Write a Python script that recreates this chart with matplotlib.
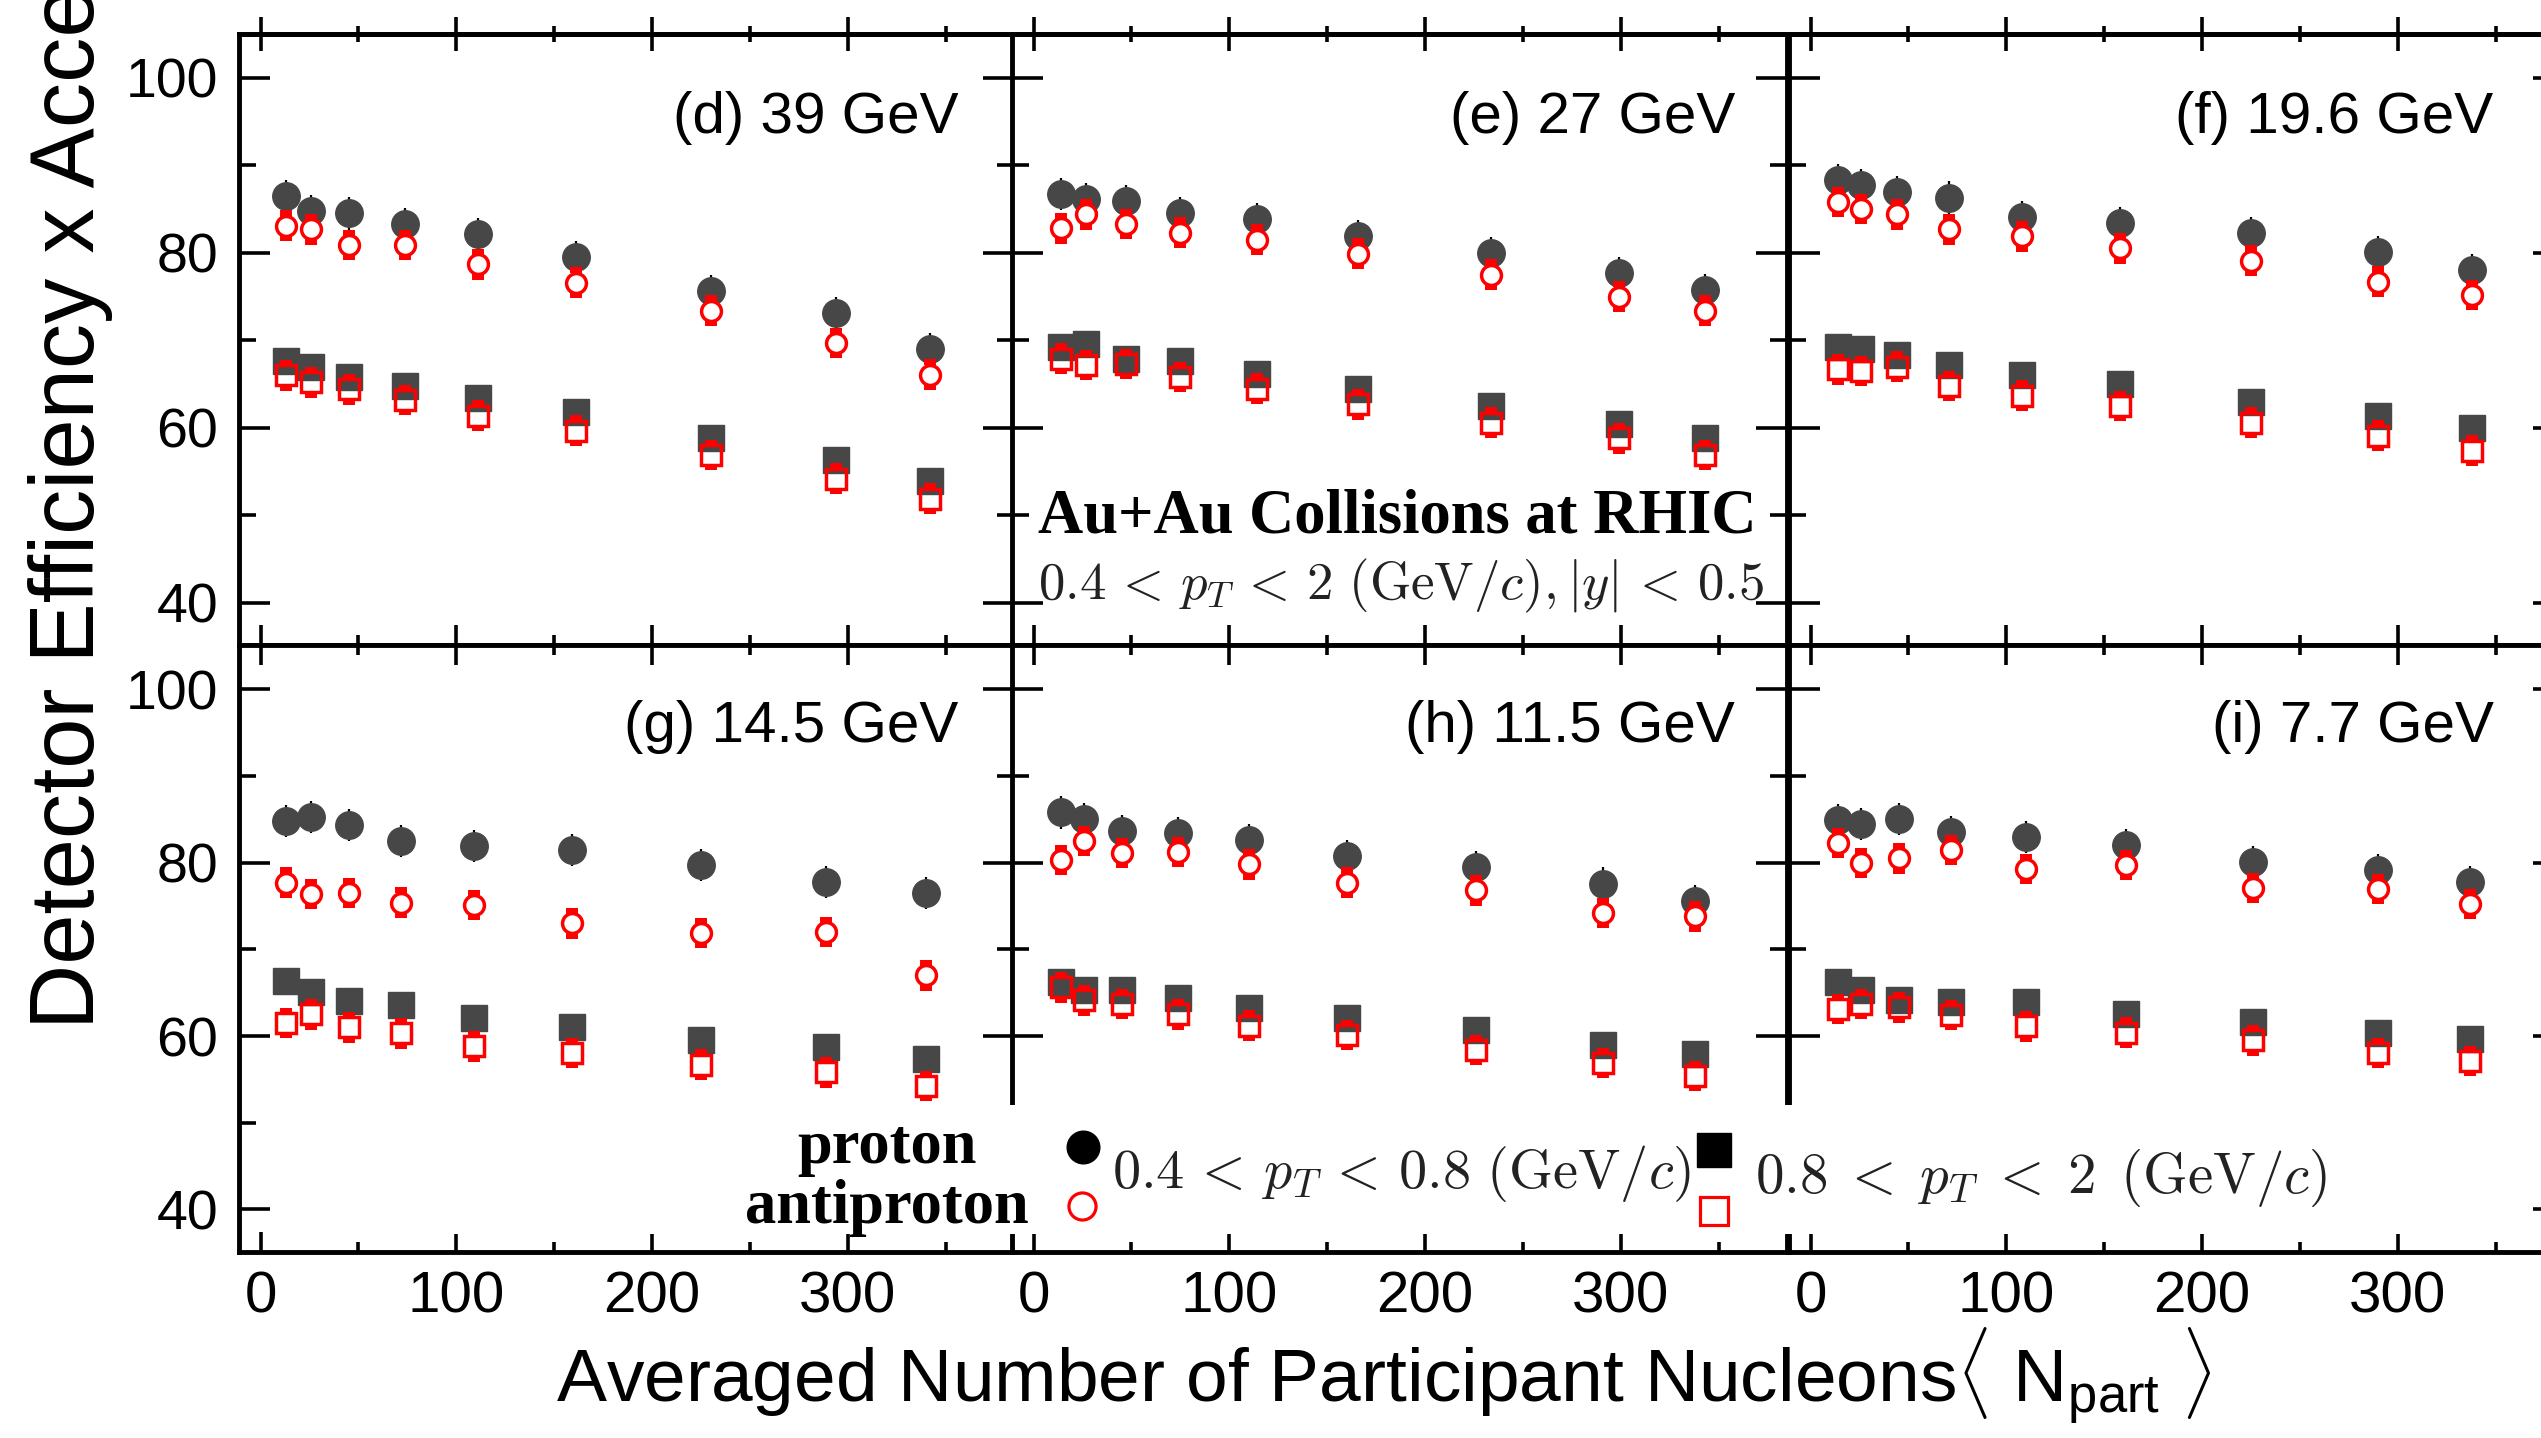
import matplotlib
matplotlib.use("Agg")
import matplotlib.pyplot as plt
from matplotlib.lines import Line2D
from matplotlib.patches import Rectangle
from matplotlib.ticker import MultipleLocator

plt.rcParams['font.family'] = ['Liberation Sans', 'DejaVu Sans']
plt.rcParams['mathtext.fontset'] = 'custom'
plt.rcParams['mathtext.rm'] = 'Liberation Sans'
plt.rcParams['mathtext.it'] = 'Liberation Sans:italic'

# ---------------- data ----------------
panel_labels = ['(d) 39 GeV', '(e) 27 GeV', '(f) 19.6 GeV',
                '(g) 14.5 GeV', '(h) 11.5 GeV', '(i) 7.7 GeV']

npart_39 = [13, 26, 45, 74, 111, 161, 230, 294, 342]
p_low_39 = [86.5, 84.8, 84.5, 83.3, 82.1, 79.5, 75.6, 73.1, 69.0]
pbar_low_39 = [83.1, 82.7, 80.9, 80.9, 78.7, 76.6, 73.4, 69.7, 66.1]
p_high_39 = [67.7, 67.0, 65.8, 64.8, 63.4, 61.8, 58.9, 56.3, 53.9]
pbar_high_39 = [66.0, 65.2, 64.4, 63.2, 61.4, 59.7, 56.9, 54.2, 51.9]

npart_27 = [14, 27, 47, 75, 114, 166, 234, 299, 343]
p_low_27 = [86.7, 86.1, 85.9, 84.5, 83.9, 81.9, 80.0, 77.7, 75.7]
pbar_low_27 = [82.8, 84.4, 83.3, 82.3, 81.5, 79.9, 77.5, 75.0, 73.4]
p_high_27 = [69.3, 69.6, 67.9, 67.6, 66.2, 64.5, 62.5, 60.5, 58.8]
pbar_high_27 = [67.9, 67.2, 67.3, 65.8, 64.5, 62.7, 60.6, 58.8, 56.9]

npart_19 = [14, 26, 44, 71, 108, 158, 225, 290, 338]
p_low_19 = [88.3, 87.7, 86.9, 86.3, 84.1, 83.4, 82.3, 80.1, 78.0]
pbar_low_19 = [85.8, 85.0, 84.4, 82.7, 81.9, 80.5, 79.1, 76.7, 75.2]
p_high_19 = [69.3, 69.0, 68.3, 67.2, 66.1, 65.0, 63.0, 61.4, 60.0]
pbar_high_19 = [66.7, 66.5, 67.0, 64.8, 63.7, 62.5, 60.6, 59.1, 57.4]

npart_14 = [13, 26, 45, 72, 109, 159, 225, 289, 340]
p_low_14 = [84.8, 85.3, 84.3, 82.5, 81.9, 81.5, 79.7, 77.8, 76.5]
pbar_low_14 = [77.7, 76.4, 76.5, 75.4, 75.1, 73.0, 71.9, 72.0, 67.0]
p_high_14 = [66.4, 65.1, 64.0, 63.6, 62.1, 61.0, 59.5, 58.7, 57.3]
pbar_high_14 = [61.5, 62.5, 61.0, 60.3, 58.8, 58.0, 56.7, 55.8, 54.2]

npart_11 = [14, 26, 45, 74, 110, 160, 226, 291, 338]
p_low_11 = [85.8, 85.0, 83.7, 83.4, 82.6, 80.8, 79.5, 77.6, 75.6]
pbar_low_11 = [80.3, 82.5, 81.1, 81.2, 79.8, 77.7, 76.8, 74.2, 73.8]
p_high_11 = [66.2, 65.3, 65.3, 64.4, 63.2, 62.1, 60.7, 59.0, 57.9]
pbar_high_11 = [65.6, 64.1, 63.7, 62.5, 61.2, 60.1, 58.4, 56.9, 55.4]

npart_7 = [14, 26, 45, 72, 110, 161, 226, 290, 337]
p_low_7 = [84.9, 84.5, 85.0, 83.5, 83.0, 82.0, 80.1, 79.2, 77.8]
pbar_low_7 = [82.3, 80.0, 80.5, 81.5, 79.3, 79.7, 77.1, 77.0, 75.2]
p_high_7 = [66.2, 65.3, 64.1, 63.9, 63.9, 62.5, 61.6, 60.4, 59.6]
pbar_high_7 = [63.1, 63.7, 63.3, 62.4, 61.1, 60.4, 59.5, 58.0, 57.1]

panels = [
    (npart_39, p_low_39, pbar_low_39, p_high_39, pbar_high_39),
    (npart_27, p_low_27, pbar_low_27, p_high_27, pbar_high_27),
    (npart_19, p_low_19, pbar_low_19, p_high_19, pbar_high_19),
    (npart_14, p_low_14, pbar_low_14, p_high_14, pbar_high_14),
    (npart_11, p_low_11, pbar_low_11, p_high_11, pbar_high_11),
    (npart_7, p_low_7, pbar_low_7, p_high_7, pbar_high_7),
]

err_proton = 1.85      # half error bar, proton (%)
err_antiproton = 1.75  # half error bar, antiproton (%)

# ---------------- style / layout ----------------
W, H = 2541, 1438
fig = plt.figure(figsize=(W / 100, H / 100), dpi=100)

GRAY = '#474747'
RED = '#ff0000'
col_left = [239, 1012, 1789]
col_w = 775
rows = [(34, 645, (35.2, 105.0)), (645, 1252, (35.07, 105.13))]
XLIM = (-11, 385)
label_x = [0.928, 0.933, 0.909]
SPINE_LW = 3.5
STUB_GAP = 1.05

axes = []
for r, (top, bot, ylim) in enumerate(rows):
    for c in range(3):
        ax = fig.add_axes([col_left[c] / W, 1 - bot / H, col_w / W, (bot - top) / H])
        ax.set_xlim(*XLIM)
        ax.set_ylim(*ylim)
        for s in ax.spines.values():
            s.set_linewidth(SPINE_LW)
        ax.xaxis.set_major_locator(MultipleLocator(100))
        ax.xaxis.set_minor_locator(MultipleLocator(50))
        ax.yaxis.set_major_locator(MultipleLocator(20))
        ax.yaxis.set_minor_locator(MultipleLocator(10))
        ax.tick_params(axis='x', which='both', direction='in', top=(r == 1),
                       bottom=True, width=2.6, labelsize=42, pad=13,
                       labelbottom=(r == 1))
        ax.tick_params(axis='x', which='major', length=14.5)
        ax.tick_params(axis='x', which='minor', length=7)
        ax.tick_params(axis='y', which='both', direction='in', left=True,
                       right=True, width=2.6, labelsize=40, pad=15,
                       labelleft=(c == 0))
        ax.tick_params(axis='y', which='major', length=22)
        ax.tick_params(axis='y', which='minor', length=12.5)
        if r == 0:
            sec = ax.secondary_xaxis('top')
            sec.xaxis.set_major_locator(MultipleLocator(100))
            sec.xaxis.set_minor_locator(MultipleLocator(50))
            sec.spines['top'].set_linewidth(SPINE_LW)
            sec.tick_params(which='both', direction='inout', width=2.6,
                            labeltop=False)
            sec.tick_params(which='major', length=24)
            sec.tick_params(which='minor', length=11)
        axes.append(ax)

for i, ax in enumerate(axes):
    npart, p_lo, pb_lo, p_hi, pb_hi = panels[i]
    # proton, 0.4 < pT < 0.8 : filled circles with thin black error bars
    ax.errorbar(npart, p_lo, yerr=err_proton, fmt='o', color=GRAY, ms=19.8,
                mec=GRAY, ecolor='black', elinewidth=1.6, capsize=0, zorder=3)
    # proton, 0.8 < pT < 2 : filled squares
    ax.plot(npart, p_hi, 's', color=GRAY, ms=18.7, mec=GRAY, zorder=3)
    # antiproton error bars drawn outside the open markers
    for vals in (pb_lo, pb_hi):
        ax.vlines(npart, [v + STUB_GAP for v in vals],
                  [v + err_antiproton for v in vals], color=RED, lw=8.6, zorder=4)
        ax.vlines(npart, [v - err_antiproton for v in vals],
                  [v - STUB_GAP for v in vals], color=RED, lw=8.6, zorder=4)
    ax.plot(npart, pb_lo, 'o', mfc='white', mec=RED, ms=14.3, mew=2.5, zorder=5)
    ax.plot(npart, pb_hi, 's', mfc='none', mec=RED, ms=14.0, mew=2.5, zorder=5)
    base_y = 0.838 if i < 3 else 0.840
    ax.text(label_x[i % 3], base_y, panel_labels[i], transform=ax.transAxes,
            ha='right', va='baseline', fontsize=42)

# ---------------- texts ----------------
fig.text(0.037, 1 - 1029 / H, 'Detector Efficiency x Acceptance (%)',
         rotation=90, rotation_mode='anchor', ha='left', va='baseline',
         fontsize=65)
fig.text(556 / W, 1 - 1402 / H,
         r'Averaged Number of Participant Nucleons$\langle$ N$_{\mathrm{part}}$ $\rangle$',
         ha='left', va='baseline', fontsize=54)

fig.text(1038 / W, 1 - 533 / H, 'Au+Au Collisions at RHIC',
         family='Liberation Serif', weight='bold', fontsize=45,
         ha='left', va='baseline')
fig.text(1038 / W, 1 - 599 / H,
         r'$0.4\,<\,p_T\,<\,2\ (\mathrm{GeV}/c), |y|\,<\,0.5$',
         math_fontfamily='cm', fontsize=38, ha='left', va='baseline',
         color='#222222')

# white legend box
fig.add_artist(Rectangle((300 / W, 1 - 1234 / H), (2525 - 300) / W,
                         (1234 - 1105) / H, transform=fig.transFigure,
                         facecolor='white', edgecolor='none', zorder=5))

fig.text(887 / W, 1 - 1163 / H, 'proton', family='Liberation Serif',
         weight='bold', fontsize=45, ha='center', va='baseline', zorder=6)
fig.text(887 / W, 1 - 1223 / H, 'antiproton', family='Liberation Serif',
         weight='bold', fontsize=45, ha='center', va='baseline', zorder=6)

fig.add_artist(Line2D([1083 / W], [1 - 1147 / H], transform=fig.transFigure,
                      marker='o', ms=23.5, color='black', ls='none', zorder=6))
fig.add_artist(Line2D([1082 / W], [1 - 1206 / H], transform=fig.transFigure,
                      marker='o', ms=19.5, mfc='none', mec=RED, mew=2.3,
                      ls='none', zorder=6))
fig.add_artist(Line2D([1714 / W], [1 - 1150 / H], transform=fig.transFigure,
                      marker='s', ms=25, color='black', ls='none', zorder=6))
fig.add_artist(Line2D([1714 / W], [1 - 1211 / H], transform=fig.transFigure,
                      marker='s', ms=20, mfc='none', mec=RED, mew=2.3,
                      ls='none', zorder=6))

fig.text(1112 / W, 1 - 1174 / H, r'$0.4\,<\,p_T\,<\,0.8\ (\mathrm{GeV}/c)$',
         math_fontfamily='cm', fontsize=40.5, ha='left', va='center',
         color='#222222', zorder=6)
fig.text(1755 / W, 1 - 1178 / H, r'$0.8\;<\;p_T\;<\;2\ \,(\mathrm{GeV}/c)$',
         math_fontfamily='cm', fontsize=41, ha='left', va='center',
         color='#222222', zorder=6)

fig.savefig('out.png', dpi=100)
